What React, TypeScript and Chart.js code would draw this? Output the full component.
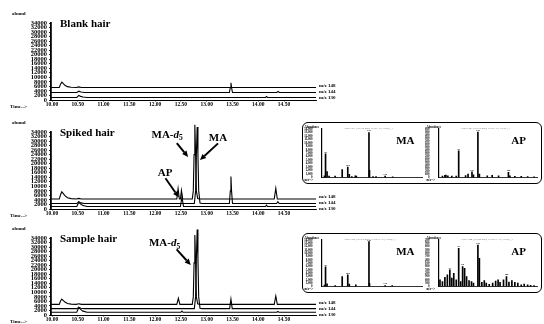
import React, { useEffect, useRef } from "react";
import { Chart, registerables } from "chart.js";

Chart.register(...registerables);

const SERIF = "'Liberation Serif', 'Times New Roman', Times, serif";

type Pt = [number, number];

// ---------- axes ----------
const timeTicks = [10.0, 10.5, 11.0, 11.5, 12.0, 12.5, 13.0, 13.5, 14.0, 14.5];
const abundTicks = [0, 2000, 4000, 6000, 8000, 10000, 12000, 14000, 16000, 18000, 20000, 22000, 24000, 26000, 28000, 30000, 32000, 34000];
const ionLabels = ["m/z 148", "m/z 144", "m/z 130"];

// ---------- Blank hair (time min, abundance) ----------
const blankIon148: Pt[] = [
  [9.98, 5500], [10.14, 5500], [10.165, 7000], [10.19, 7900], [10.215, 7300], [10.25, 6500], [10.3, 5900], [10.37, 5600],
  [10.47, 5500], [10.52, 5800], [10.57, 5500], [15.12, 5500],
];
const blankIon144: Pt[] = [
  [9.98, 3300], [10.48, 3300], [10.52, 3900], [10.56, 3500], [10.63, 3300], [13.44, 3300], [13.458, 5500], [13.47, 7600],
  [13.482, 5500], [13.5, 3300], [14.36, 3300], [14.385, 3800], [14.41, 3300], [15.12, 3300],
];
const blankIon130: Pt[] = [
  [9.98, 1100], [10.48, 1100], [10.52, 2000], [10.555, 1600], [10.6, 1300], [10.68, 1100], [14.14, 1100], [14.16, 1500],
  [14.18, 1100], [15.12, 1100],
];

// ---------- Spiked hair ----------
const spikedIon148: Pt[] = [
  [9.98, 4400], [10.14, 4400], [10.165, 6300], [10.19, 7600], [10.215, 6900], [10.25, 5900], [10.3, 5000], [10.37, 4600],
  [10.47, 4400], [10.52, 4700], [10.57, 4400], [12.42, 4400], [12.445, 9000], [12.47, 4400], [12.49, 4400], [12.51, 8200],
  [12.535, 4400], [12.72, 4400], [12.74, 8000], [12.755, 24000], [12.77, 37200], [12.785, 24000], [12.8, 8000],
  [12.825, 4600], [12.86, 4400], [14.31, 4400], [14.34, 9100], [14.37, 4400], [15.12, 4400],
];
const spikedIon144: Pt[] = [
  [9.98, 2400], [10.48, 2400], [10.52, 3200], [10.56, 2700], [10.63, 2400], [12.76, 2400], [12.785, 8000], [12.8, 24000],
  [12.815, 36200], [12.83, 24000], [12.845, 8000], [12.87, 2600], [12.91, 2400], [13.44, 2400], [13.458, 8000],
  [13.47, 14300], [13.482, 8000], [13.5, 2400], [14.355, 2400], [14.38, 3200], [14.405, 2400], [15.12, 2400],
];
const spikedIon130: Pt[] = [
  [9.98, 1100], [10.48, 1100], [10.52, 3000], [10.555, 2200], [10.6, 1500], [10.68, 1100], [12.49, 1100], [12.52, 5400],
  [12.55, 1100], [14.14, 1100], [14.16, 1700], [14.18, 1100], [15.12, 1100],
];

// ---------- Sample hair ----------
const sampleIon148: Pt[] = [
  [9.98, 4700], [10.14, 4700], [10.165, 6200], [10.19, 7000], [10.215, 6500], [10.25, 5700], [10.3, 5100], [10.37, 4800],
  [10.47, 4700], [10.52, 4950], [10.57, 4700], [12.42, 4700], [12.45, 7400], [12.48, 4700], [12.72, 4700], [12.74, 8000],
  [12.755, 23000], [12.77, 35300], [12.785, 23000], [12.8, 8000], [12.825, 4900], [12.86, 4700], [14.31, 4700],
  [14.34, 8400], [14.37, 4700], [15.12, 4700],
];
const sampleIon144: Pt[] = [
  [9.98, 2800], [10.48, 2800], [10.52, 3400], [10.56, 3000], [10.63, 2800], [12.76, 2800], [12.785, 8000], [12.8, 25000],
  [12.815, 37800], [12.83, 25000], [12.845, 8000], [12.87, 3000], [12.91, 2800], [13.445, 2800], [13.47, 7000],
  [13.495, 2800], [15.12, 2800],
];
const sampleIon130: Pt[] = [
  [9.98, 1200], [10.48, 1200], [10.52, 3400], [10.555, 2500], [10.6, 1700], [10.68, 1200], [12.5, 1200], [12.52, 1700],
  [12.54, 1200], [14.36, 1200], [14.38, 1600], [14.4, 1200], [15.12, 1200],
];

// ---------- Mass spectra (m/z, abundance) ----------
const spikedMASpectrum: Pt[] = [
  [56, 500], [58, 6800], [61, 1700], [65, 400], [77, 400], [91, 2300], [102, 3000], [105, 900], [110, 300], [117, 500],
  [119, 400], [144, 13000], [145, 2100], [152, 300], [158, 250], [176, 400], [191, 200],
];
const spikedMALabels = [58, 102, 144, 176];
const spikedAPSpectrum: Pt[] = [
  [58, 300], [63, 450], [65, 500], [69, 350], [77, 300], [86, 300], [91, 5300], [105, 400], [110, 700], [118, 1100],
  [121, 550], [130, 9000], [133, 700], [149, 350], [159, 450], [172, 350], [192, 1000], [195, 350], [205, 250],
  [218, 250], [231, 200], [244, 150],
];
const spikedAPLabels = [91, 118, 130, 192];
const sampleMASpectrum: Pt[] = [
  [56, 400], [58, 5900], [61, 800], [77, 300], [91, 3000], [102, 3500], [105, 700], [118, 500], [144, 13500],
  [145, 950], [176, 300], [190, 250],
];
const sampleMALabels = [58, 102, 144, 176];
const sampleAPSpectrum: Pt[] = [
  [53, 600], [58, 450], [63, 825], [68, 1050], [73, 1500], [77, 750], [81, 1200], [86, 600], [91, 3450], [95, 450],
  [99, 1800], [103, 1650], [107, 900], [112, 525], [117, 450], [121, 300], [130, 3750], [133, 2550], [138, 375],
  [143, 525], [147, 300], [153, 190], [160, 300], [166, 490], [171, 600], [175, 375], [182, 600], [188, 900],
  [193, 410], [199, 525], [205, 375], [211, 300], [218, 150], [224, 225], [231, 150], [237, 110], [244, 75],
];
const sampleAPLabels = [73, 91, 99, 130, 188];

// ---------- annotations ----------
type Part = { text: string; italic?: boolean; sub?: boolean };
type Note = { parts: Part[]; at: Pt; from: Pt; to: Pt };

const spikedNotes: Note[] = [
  { parts: [{ text: "MA-" }, { text: "d", italic: true }, { text: "5", sub: true }], at: [11.93, 32700], from: [12.42, 29100], to: [12.64, 23000] },
  { parts: [{ text: "MA" }], at: [13.04, 31200], from: [13.22, 29000], to: [12.87, 21600] },
  { parts: [{ text: "AP" }], at: [12.05, 15800], from: [12.2, 13550], to: [12.46, 5150] },
];
const sampleNotes: Note[] = [
  { parts: [{ text: "MA-" }, { text: "d", italic: true }, { text: "5", sub: true }], at: [11.88, 31650], from: [12.416, 29000], to: [12.69, 22100] },
];

function drawArrow(ctx: CanvasRenderingContext2D, x1: number, y1: number, x2: number, y2: number) {
  const ang = Math.atan2(y2 - y1, x2 - x1);
  const head = 6;
  const half = 2.8;
  const bx = x2 - Math.cos(ang) * head;
  const by = y2 - Math.sin(ang) * head;
  ctx.beginPath();
  ctx.lineWidth = 1.9;
  ctx.strokeStyle = "#000";
  ctx.moveTo(x1, y1);
  ctx.lineTo(bx, by);
  ctx.stroke();
  ctx.beginPath();
  ctx.fillStyle = "#000";
  ctx.moveTo(x2, y2);
  ctx.lineTo(bx - Math.sin(ang) * half, by + Math.cos(ang) * half);
  ctx.lineTo(bx + Math.sin(ang) * half, by - Math.cos(ang) * half);
  ctx.closePath();
  ctx.fill();
}

function Chromatogram({ top, title, series, notes }: { top: number; title: string; series: Pt[][]; notes: Note[] }) {
  const ref = useRef<HTMLCanvasElement>(null);
  useEffect(() => {
    const canvas = ref.current;
    if (!canvas) return;
    const labelPlugin = {
      id: "chromLabels",
      afterDatasetsDraw(chart: any) {
        const ctx: CanvasRenderingContext2D = chart.ctx;
        const a = chart.chartArea;
        const xs = chart.scales.x;
        const ys = chart.scales.y;
        ctx.save();
        ctx.fillStyle = "#000";
        ctx.textBaseline = "middle";
        ctx.textAlign = "left";
        ctx.font = `bold 5px ${SERIF}`;
        ctx.fillText("abund", 12, a.top - 9);
        ctx.fillText("Time-->", 10, a.bottom + 6.5);
        ctx.font = `bold 11px ${SERIF}`;
        ctx.fillText(title, 60, a.top + 1);
        ctx.font = `bold 5px ${SERIF}`;
        const y0 = ys.getPixelForValue(series[0][0][1]);
        series.forEach((_s, i) => {
          ctx.fillText(ionLabels[i], a.right + 3, y0 - 2 + 6 * i);
        });
        notes.forEach((n) => {
          let x = xs.getPixelForValue(n.at[0]);
          const y = ys.getPixelForValue(n.at[1]);
          n.parts.forEach((p) => {
            ctx.font = `${p.italic ? "italic " : ""}bold ${p.sub ? 7.5 : 11}px ${SERIF}`;
            ctx.fillText(p.text, x, y + (p.sub ? 3.5 : 0));
            x += ctx.measureText(p.text).width;
          });
          drawArrow(ctx, xs.getPixelForValue(n.from[0]), ys.getPixelForValue(n.from[1]), xs.getPixelForValue(n.to[0]), ys.getPixelForValue(n.to[1]));
        });
        ctx.restore();
      },
    };
    const chart = new Chart(canvas, {
      type: "line",
      data: {
        datasets: series.map((s) => ({
          data: s.map(([x, y]) => ({ x, y })),
          borderColor: "#000",
          borderWidth: 1.1,
          pointRadius: 0,
          tension: 0,
          fill: false,
          clip: false as any,
        })),
      },
      options: {
        responsive: false,
        animation: false,
        devicePixelRatio: 1,
        events: [],
        layout: { padding: { top: 23, right: 228, left: 0, bottom: 0 } },
        plugins: { legend: { display: false }, tooltip: { enabled: false } },
        scales: {
          x: {
            type: "linear",
            min: 9.98,
            max: 15.12,
            afterBuildTicks: (sc: any) => {
              sc.ticks = timeTicks.map((v) => ({ value: v }));
            },
            afterFit: (sc: any) => {
              sc.height = 8;
            },
            ticks: {
              autoSkip: false,
              maxRotation: 0,
              padding: 0.5,
              color: "#000",
              font: { family: SERIF, size: 5.5, weight: "bold", lineHeight: 1 },
              callback: (v: any) => Number(v).toFixed(2),
            },
            grid: { drawOnChartArea: false, drawTicks: true, tickLength: 1.5, color: "#000", lineWidth: 0.8 },
            border: { display: true, color: "#000", width: 1 },
          },
          y: {
            type: "linear",
            min: 0,
            max: 34000,
            afterBuildTicks: (sc: any) => {
              sc.ticks = abundTicks.map((v) => ({ value: v }));
            },
            afterFit: (sc: any) => {
              sc.width = 51;
            },
            ticks: {
              autoSkip: false,
              padding: 2,
              color: "#000",
              font: { family: SERIF, size: 6.5, weight: "bold", lineHeight: 1 },
              callback: (v: any) => String(v),
            },
            grid: { drawOnChartArea: false, tickLength: 2, color: "#000", lineWidth: 0.8 },
            border: { display: true, color: "#000", width: 1.8 },
          },
        },
      } as any,
      plugins: [labelPlugin],
    });
    return () => chart.destroy();
  }, []);
  return <canvas ref={ref} width={544} height={108} style={{ position: "absolute", left: 0, top, width: 544, height: 108 }} />;
}

function Spectrum(props: {
  left: number; width: number; height: number; yWidth: number; padRight: number;
  data: Pt[]; labels: number[]; yMax: number; yStep: number; name: string; nameRight: number; scanTitle: string;
}) {
  const ref = useRef<HTMLCanvasElement>(null);
  const { left, width, height, yWidth, padRight, data, labels, yMax, yStep, name, nameRight, scanTitle } = props;
  useEffect(() => {
    const canvas = ref.current;
    if (!canvas) return;
    const specPlugin = {
      id: "specLabels",
      afterDatasetsDraw(chart: any) {
        const ctx: CanvasRenderingContext2D = chart.ctx;
        const a = chart.chartArea;
        const xs = chart.scales.x;
        const ys = chart.scales.y;
        ctx.save();
        ctx.textBaseline = "middle";
        ctx.fillStyle = "#000";
        ctx.textAlign = "left";
        ctx.font = `bold 3px ${SERIF}`;
        ctx.fillText("Abundance", 1.5, a.top - 1.5);
        ctx.fillText("m/z-->", 1.5, a.bottom + 2.5);
        ctx.fillStyle = "#777";
        ctx.font = `2.6px ${SERIF}`;
        ctx.fillText(scanTitle, a.left + 23, a.top - 0.5);
        ctx.fillStyle = "#000";
        ctx.font = `bold 11px ${SERIF}`;
        ctx.textAlign = "right";
        ctx.fillText(name, a.right - nameRight, a.top + 12);
        ctx.textAlign = "center";
        ctx.font = `bold 2.6px ${SERIF}`;
        labels.forEach((m) => {
          const p = data.find((d) => d[0] === m);
          if (!p) return;
          ctx.fillText(String(m), xs.getPixelForValue(p[0]), ys.getPixelForValue(p[1]) - 1.8);
        });
        ctx.restore();
      },
    };
    const chart = new Chart(canvas, {
      type: "bar",
      data: {
        datasets: [
          {
            data: data.map(([x, y]) => ({ x, y })),
            backgroundColor: "#000",
            borderWidth: 0,
            barThickness: 1,
          },
        ],
      },
      options: {
        responsive: false,
        animation: false,
        devicePixelRatio: 1,
        events: [],
        layout: { padding: { top: 6, right: padRight, left: 0, bottom: 0 } },
        plugins: { legend: { display: false }, tooltip: { enabled: false } },
        scales: {
          x: {
            type: "linear",
            min: 50,
            max: 250,
            offset: false,
            afterFit: (sc: any) => {
              sc.height = 5.5;
            },
            ticks: { display: false },
            grid: { display: false },
            border: { display: true, color: "#000", width: 0.8 },
          },
          y: {
            type: "linear",
            min: 0,
            max: yMax,
            afterFit: (sc: any) => {
              sc.width = yWidth;
            },
            ticks: {
              stepSize: yStep,
              autoSkip: false,
              padding: 1,
              color: "#000",
              font: { family: SERIF, size: 3, weight: "bold", lineHeight: 1 },
            },
            grid: { display: false },
            border: { display: true, color: "#000", width: 1.2 },
          },
        },
      } as any,
      plugins: [specPlugin],
    });
    return () => chart.destroy();
  }, []);
  return <canvas ref={ref} width={width} height={height} style={{ position: "absolute", left, top: 0, width, height }} />;
}

function SpectrumBox(props: {
  top: number; innerHeight: number;
  ma: Pt[]; maLabels: number[]; maMax: number; maStep: number;
  ap: Pt[]; apLabels: number[]; apMax: number; apStep: number; maTitle: string; apTitle: string;
}) {
  const { top, innerHeight, ma, maLabels, maMax, maStep, ap, apLabels, apMax, apStep, maTitle, apTitle } = props;
  return (
    <div
      style={{
        position: "absolute",
        left: 302,
        top,
        width: 238,
        height: innerHeight,
        border: "1.5px solid #000",
        borderRadius: 6,
        background: "#fff",
      }}
    >
      <Spectrum left={0} width={122} height={innerHeight} yWidth={18.5} padRight={2.5} data={ma} labels={maLabels} yMax={maMax} yStep={maStep} name="MA" nameRight={8} scanTitle={maTitle} />
      <Spectrum left={122} width={116} height={innerHeight} yWidth={13.5} padRight={4} data={ap} labels={apLabels} yMax={apMax} yStep={apStep} name="AP" nameRight={11} scanTitle={apTitle} />
    </div>
  );
}

export default function App() {
  return (
    <div style={{ position: "fixed", left: 0, top: 0, width: 544, height: 324, background: "#fff", overflow: "hidden" }}>
      <Chromatogram top={0} title="Blank hair" series={[blankIon148, blankIon144, blankIon130]} notes={[]} />
      <Chromatogram top={109} title="Spiked hair" series={[spikedIon148, spikedIon144, spikedIon130]} notes={spikedNotes} />
      <Chromatogram top={215} title="Sample hair" series={[sampleIon148, sampleIon144, sampleIon130]} notes={sampleNotes} />
      <SpectrumBox
        top={122}
        innerHeight={60}
        ma={spikedMASpectrum}
        maLabels={spikedMALabels}
        maMax={14000}
        maStep={1000}
        ap={spikedAPSpectrum}
        apLabels={spikedAPLabels}
        apMax={9600}
        apStep={600}
        maTitle="Scan 1271 (12.770 min): SPIKE.D (-1265) (-)"
        apTitle="Scan 1243 (12.515 min): SPIKE.D (-1238) (-)"
      />
      <SpectrumBox
        top={233}
        innerHeight={58}
        ma={sampleMASpectrum}
        maLabels={sampleMALabels}
        maMax={14000}
        maStep={1000}
        ap={sampleAPSpectrum}
        apLabels={sampleAPLabels}
        apMax={4200}
        apStep={300}
        maTitle="Scan 1274 (12.815 min): SAMPLE.D (-1268) (-)"
        apTitle="Scan 1244 (12.520 min): SAMPLE.D (-1239) (-)"
      />
    </div>
  );
}
